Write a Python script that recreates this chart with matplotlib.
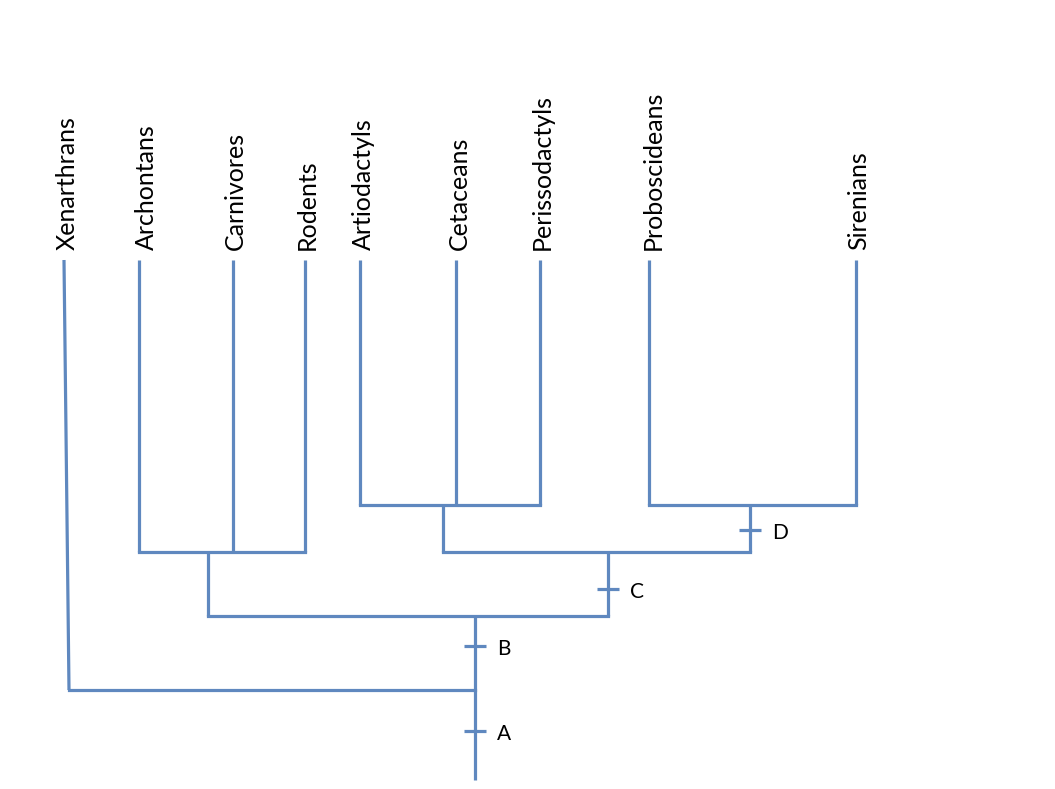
import matplotlib
matplotlib.use("Agg")
import matplotlib.pyplot as plt

# ---- data (pixel-space layout of the cladogram) ----
taxa = ["Xenarthrans", "Archontans", "Carnivores", "Rodents", "Artiodactyls",
        "Cetaceans", "Perissodactyls", "Proboscideans", "Sirenians"]
tip_x = [64, 139, 233, 305, 360, 456, 540, 649, 856]
tip_x_bottom = [69, 139, 233, 305, 360, 456, 540, 649, 856]
tip_bottom = [690, 552, 552, 552, 505, 505, 505, 505, 505]
label_dx = [3, 7, 2, 2, 3, 3, 2, 4, 3]
tip_top = 260

# internal nodes: bar y, bar extent (children x), node x, stem bottom y
node_bar_y = [552, 505, 505, 552, 616, 690]
node_children = [[139, 233, 305], [360, 456, 540], [649, 856], [443, 750], [208, 608], [69, 475]]
node_x = [208, 443, 750, 608, 475, 475]
node_stem_bottom = [616, 552, 552, 616, 690, 780]

# character-state marks
mark_labels = ["A", "B", "C", "D"]
mark_x = [475, 475, 608, 750]
mark_y = [731, 646, 589, 530]

color = "#5F88BF"
lw = 2.3

fig = plt.figure(figsize=(10.55, 7.89), dpi=100)
ax = fig.add_axes([0, 0, 1, 1])
ax.set_xlim(0, 1055)
ax.set_ylim(789, 0)
ax.axis("off")

font = ["Lato", "DejaVu Sans"]

for name, x, xb, yb, dx in zip(taxa, tip_x, tip_x_bottom, tip_bottom, label_dx):
    ax.plot([x, xb], [tip_top, yb], color=color, lw=lw, solid_capstyle="butt")
    ax.text(x + dx, tip_top - 10, name, rotation=90, ha="center", va="bottom",
            fontsize=18, family=font, color="black")

for by, ch, nx, sb in zip(node_bar_y, node_children, node_x, node_stem_bottom):
    ax.plot([min(ch), max(ch)], [by, by], color=color, lw=lw, solid_capstyle="projecting")
    ax.plot([nx, nx], [by, sb], color=color, lw=lw, solid_capstyle="butt")

for lab, x, y in zip(mark_labels, mark_x, mark_y):
    ax.plot([x - 11, x + 11], [y, y], color=color, lw=lw, solid_capstyle="butt")
    ax.text(x + 22, y + 3, lab, ha="left", va="center", fontsize=15, family=font, color="black")

fig.savefig("out.png", dpi=100)
